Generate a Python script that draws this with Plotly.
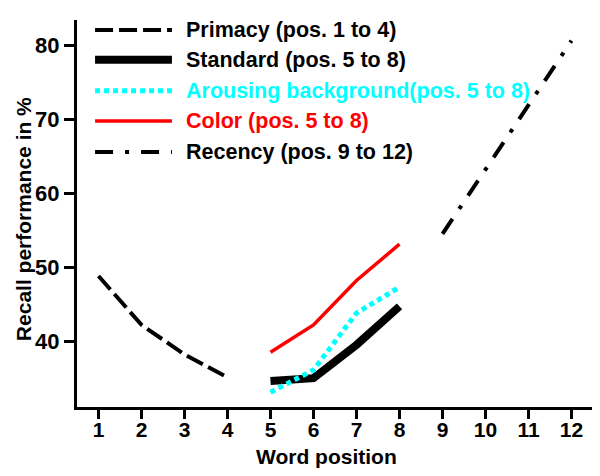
import plotly.graph_objects as go

# ---------------------------------------------------------------------------
# Data
# ---------------------------------------------------------------------------
primacy_pos = [1, 2, 3, 4]
primacy_val = [48.8, 42.2, 38.2, 35.1]

middle_pos = [5, 6, 7, 8]
standard_val = [34.6, 35.0, 39.5, 44.7]
arousing_val = [33.1, 36.1, 43.8, 47.3]
color_val = [38.5, 42.2, 48.2, 53.1]

recency_pos = [9, 10, 11, 12]
recency_val = [54.5, 63.2, 71.8, 80.6]

x_ticks = list(range(1, 13))
y_ticks = [40, 50, 60, 70, 80]

legend_labels = [
    "Primacy (pos. 1 to 4)",
    "Standard (pos. 5 to 8)",
    "Arousing background(pos. 5 to 8)",
    "Color (pos. 5 to 8)",
    "Recency (pos. 9 to 12)",
]

FONT = "Liberation Sans, Arial, sans-serif"

# style per series: (colour, width, dash)
styles = [
    ("black", 4, "18px,6px"),
    ("black", 8, "solid"),
    ("#00ffff", 5, "5px,4px"),
    ("#ff0000", 3.5, "solid"),
    ("black", 4, "18px,12px,4px,12px"),
]
series = [
    (primacy_pos, primacy_val),
    (middle_pos, standard_val),
    (middle_pos, arousing_val),
    (middle_pos, color_val),
    (recency_pos, recency_val),
]

fig = go.Figure()
for (xs, ys), (col, w, dash), name in zip(series, styles, legend_labels):
    fig.add_trace(go.Scatter(
        x=xs, y=ys, mode="lines", name=name,
        line=dict(color=col, width=w, dash=dash),
        showlegend=False,
    ))

# hand-drawn legend (long line samples, coloured labels)
legend_y = [0.974, 0.897, 0.817, 0.739, 0.659]
text_colors = ["black", "black", "#00ffff", "#ff0000", "black"]
for (col, w, dash), name, ly, tc in zip(styles, legend_labels, legend_y, text_colors):
    fig.add_shape(
        type="line", xref="paper", yref="paper",
        x0=0.035, x1=0.184, y0=ly, y1=ly,
        line=dict(color=col, width=w, dash=dash),
    )
    fig.add_annotation(
        text=name, xref="paper", yref="paper",
        x=0.21, y=ly, xanchor="left", yanchor="middle",
        showarrow=False, borderpad=0,
        font=dict(family=FONT, size=21.5, color=tc, weight="bold"),
    )

# axis titles (placed by hand, the x title sits a bit left of centre)
fig.add_annotation(
    text="Word position", xref="paper", yref="paper",
    x=0.483, y=-0.127, xanchor="center", yanchor="middle",
    showarrow=False, borderpad=0,
    font=dict(family=FONT, size=21, weight="bold"),
)
fig.add_annotation(
    text="Recall performance in %", xref="paper", yref="paper",
    x=-0.105, y=0.485, xanchor="center", yanchor="middle",
    textangle=-90, showarrow=False, borderpad=0,
    font=dict(family=FONT, size=21, weight="bold"),
)

# the page body has an 8px margin, so the figure is sized to the visible area
fig.update_layout(
    width=592,
    height=468,
    margin=dict(l=69, r=7, t=12, b=69),
    paper_bgcolor="white",
    plot_bgcolor="white",
    font=dict(family=FONT, color="black"),
    xaxis=dict(
        range=[0.5, 12.5],
        tickvals=x_ticks,
        automargin=False,
        ticks="outside", ticklen=9, tickwidth=2.5, tickcolor="black",
        ticklabelstandoff=-7,
        showline=True, linecolor="black", linewidth=3,
        showgrid=False, zeroline=False,
        tickfont=dict(family=FONT, size=21, weight="bold"),
    ),
    yaxis=dict(
        range=[31.1, 83.4],
        tickvals=y_ticks,
        automargin=False,
        ticks="outside", ticklen=10, tickwidth=2.5, tickcolor="black",
        showline=True, linecolor="black", linewidth=3,
        showgrid=False, zeroline=False,
        tickfont=dict(family=FONT, size=22, weight="bold"),
    ),
)

fig.write_html("out.html")
